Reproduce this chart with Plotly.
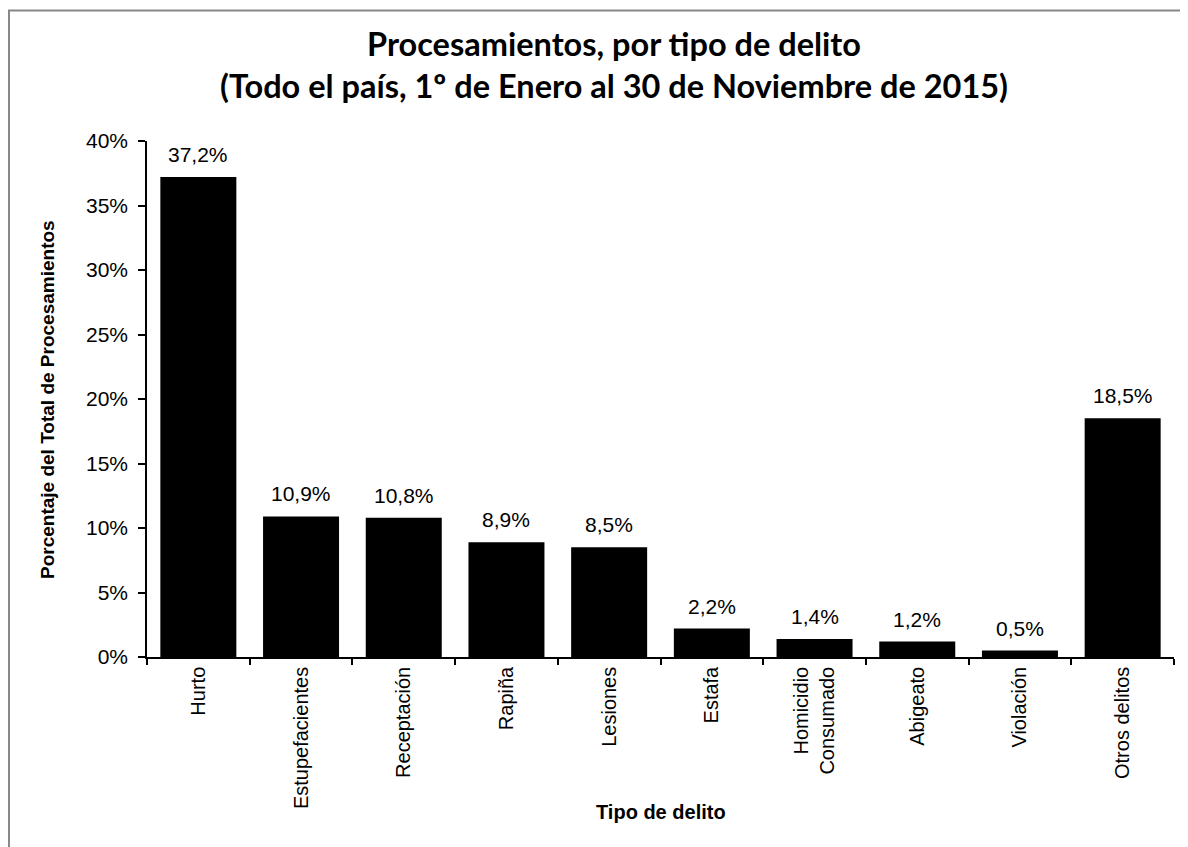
import plotly.graph_objects as go

categorias = ["Hurto", "Estupefacientes", "Receptación", "Rapiña", "Lesiones",
              "Estafa", "Homicidio<br>Consumado", "Abigeato", "Violación", "Otros delitos"]
porcentajes = [37.2, 10.9, 10.8, 8.9, 8.5, 2.2, 1.4, 1.2, 0.5, 18.5]
y_ticks = [0, 5, 10, 15, 20, 25, 30, 35, 40]
y_tick_labels = [f"{v}%" for v in y_ticks]

titulo = ("<b>Procesamientos, por tipo de delito<br>"
          "(Todo el país, 1º de Enero al 30 de Noviembre de 2015)</b>")
titulo_x = "<b>Tipo de delito</b>"
titulo_y = "<b>Porcentaje del Total de Procesamientos</b>"

# page body has an 8px margin; figure coordinates = screen coordinates - 8
OFF = 8
W, H = 1180, 839
L, T = 147 - OFF, 141 - OFF
R = W - (1174 - OFF)
B = H - (657 - OFF)
pw, ph = W - L - R, H - T - B

def px_x(p):
    return (p - OFF - L) / pw

def px_y(p):
    return (H - B - (p - OFF)) / ph

FONT = "Liberation Sans, Arial"

fig = go.Figure()
fig.add_trace(go.Bar(
    x=categorias, y=porcentajes,
    marker=dict(color="black", line=dict(width=0)),
    hoverinfo="skip",
))

for c, v in zip(categorias, porcentajes):
    fig.add_annotation(
        x=c, y=v, text=f"{v:.1f}".replace(".", ",") + "%",
        showarrow=False, yanchor="bottom", yshift=9,
        font=dict(family=FONT, size=21, color="black"),
    )

# axis titles
fig.add_annotation(xref="paper", yref="paper", x=0.5, y=px_y(812),
                   text=titulo_x, showarrow=False, xanchor="center", yanchor="middle",
                   font=dict(family=FONT, size=20, color="black"))
fig.add_annotation(xref="paper", yref="paper", x=px_x(47), y=px_y(400),
                   text=titulo_y, showarrow=False, textangle=-90,
                   xanchor="center", yanchor="middle",
                   font=dict(family=FONT, size=19, color="black"))

# outer chart border
fig.add_shape(type="rect", xref="paper", yref="paper",
              x0=px_x(9), x1=px_x(1210), y0=px_y(880), y1=px_y(10.5),
              line=dict(color="#888888", width=2), fillcolor="rgba(0,0,0,0)",
              layer="below")

fig.update_layout(
    width=W, height=H,
    margin=dict(l=L, r=R, t=T, b=B, autoexpand=False),
    paper_bgcolor="white", plot_bgcolor="white",
    bargap=0.26,
    showlegend=False,
    title=dict(text=titulo, x=px_x(614), xanchor="center", xref="paper",
               y=1 - 48 / H, yanchor="middle",
               font=dict(family="Lato", size=32.5, color="black")),
    font=dict(family=FONT, color="black"),
)

fig.update_xaxes(
    showline=True, linecolor="black", linewidth=1.5,
    ticks="outside", tickson="boundaries", ticklen=6, tickwidth=1.5, tickcolor="black",
    tickangle=-90, tickfont=dict(family=FONT, size=20, color="black"),
    showgrid=False, automargin=False,
)
fig.update_yaxes(
    range=[0, 40], tickvals=y_ticks, ticktext=y_tick_labels,
    showline=True, linecolor="black", linewidth=1.5,
    ticks="outside", ticklen=7, tickwidth=1.5, tickcolor="black",
    ticklabelstandoff=6,
    tickfont=dict(family=FONT, size=21, color="black"),
    showgrid=False, zeroline=False, automargin=False,
)

fig.write_html("out.html")
